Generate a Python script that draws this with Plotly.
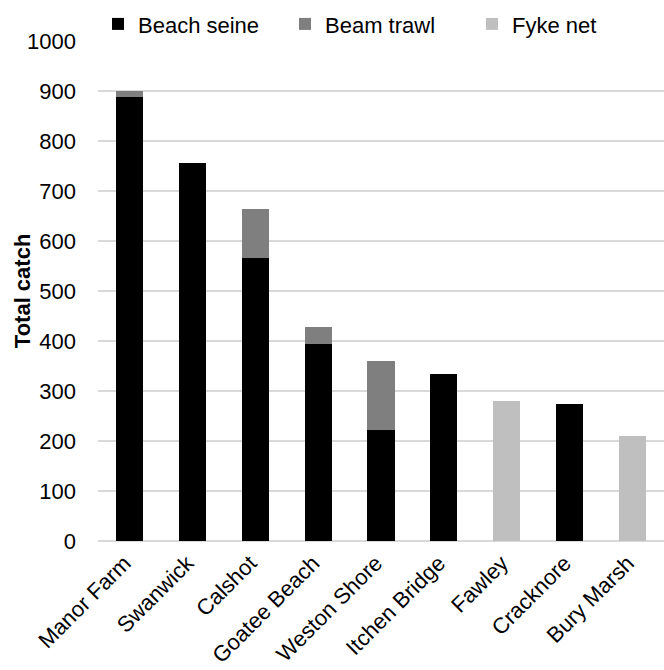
import plotly.graph_objects as go

sites = ["Manor Farm", "Swanwick", "Calshot", "Goatee Beach", "Weston Shore",
         "Itchen Bridge", "Fawley", "Cracknore", "Bury Marsh"]
beach_seine = [888, 756, 567, 395, 223, 335, 0, 275, 0]
beam_trawl = [12, 0, 97, 34, 138, 0, 0, 0, 0]
fyke_net = [0, 0, 0, 0, 0, 0, 281, 0, 211]
y_ticks = [0, 100, 200, 300, 400, 500, 600, 700, 800, 900, 1000]

font_family = "Liberation Sans, Arial, sans-serif"
font_size = 22

fig = go.Figure()
for name, vals, color in [("Beach seine", beach_seine, "#000000"),
                          ("Beam trawl", beam_trawl, "#7f7f7f"),
                          ("Fyke net", fyke_net, "#bfbfbf")]:
    fig.add_trace(go.Bar(x=sites, y=vals, name=name, marker_color=color,
                         marker_line_width=0))

fig.update_layout(
    barmode="stack",
    bargap=0.57,
    width=664, height=670,
    margin=dict(l=98, r=0, t=41, b=129, autoexpand=False),
    plot_bgcolor="white", paper_bgcolor="white",
    font=dict(family=font_family, size=font_size, color="#000000"),
    legend=dict(orientation="h", x=0, xanchor="left",
                yref="container", y=0.964, yanchor="middle",
                entrywidth=142, itemwidth=30, font=dict(size=font_size),
                traceorder="normal"),
    xaxis=dict(tickangle=-45, tickfont=dict(size=font_size), showline=False,
               ticks="", showgrid=False, automargin=False,
               ticklabelstandoff=4, ticklabelshift=-5),
    yaxis=dict(range=[0, 1000], tickvals=y_ticks, showgrid=True,
               gridcolor="#d9d9d9", gridwidth=1.5, zeroline=True,
               zerolinecolor="#d9d9d9", zerolinewidth=1.5,
               tickfont=dict(size=font_size), ticks="", ticklabelstandoff=21,
               automargin=False),
    annotations=[dict(text="<b>Total catch</b>", textangle=-90,
                      xref="paper", yref="paper", x=-0.134, y=0.5,
                      xanchor="center", yanchor="middle", showarrow=False,
                      font=dict(size=font_size))],
)

fig.write_html("out.html")
